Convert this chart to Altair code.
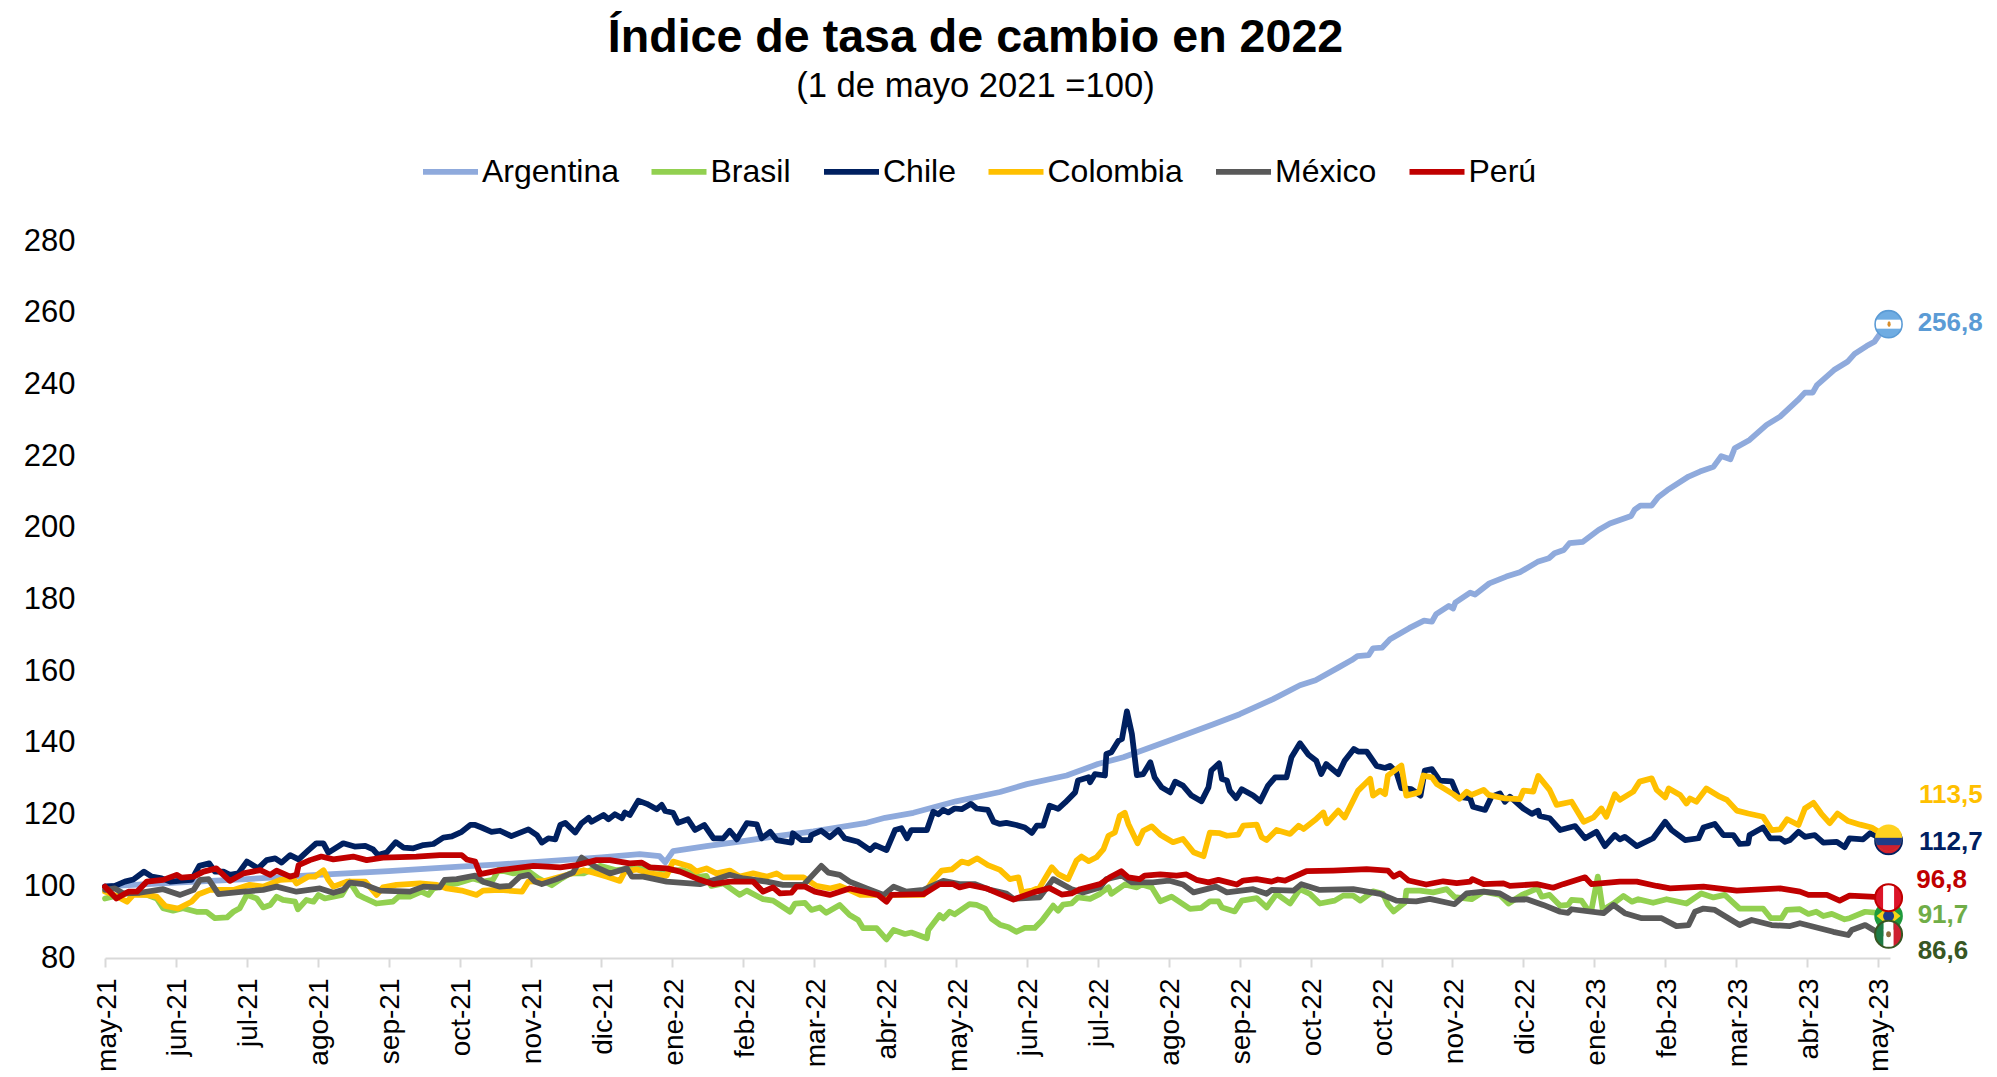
import urllib.parse
import altair as alt
import pandas as pd

TICK_LABELS = ["may-21","jun-21","jul-21","ago-21","sep-21","oct-21","nov-21","dic-21","ene-22","feb-22","mar-22","abr-22",
               "may-22","jun-22","jul-22","ago-22","sep-22","oct-22","oct-22","nov-22","dic-22","ene-23","feb-23","mar-23","abr-23","may-23"]
SERIES = ["Argentina","Brasil","Chile","Colombia","México","Perú"]
COLORS = ["#8FAADC","#92D050","#002060","#FFC000","#595959","#C00000"]

# (months since May 2021, index)
ARGENTINA = [(0,100),(1,101),(2,102),(3,103.2),(4,104.2),(5,105.5),(5.57,106.1),(6,106.7),(7,108.1),(7.54,109),(7.82,108.4),(7.9,106.7),
 (8.01,109.8),(8.48,111.2),(9,112.6),(9.47,114),(9.99,115.3),(10.74,117.7),(11,119.1),(11.4,120.5),(12,123.7),(12.62,126.3),(13,128.5),
 (13.56,130.9),(14,134.1),(14.36,136),(15,140.6),(15.63,145.2),(16,148),(16.47,152.2),(16.85,156.1),(17.07,157.5),(17.39,161),(17.58,163.1),
 (17.66,164.2),(17.82,164.5),(17.88,166.4),(18.01,166.6),(18.12,168.9),(18.39,172),(18.6,174.1),(18.71,173.8),(18.77,175.9),(18.95,178.2),
 (19.01,177.5),(19.04,179.1),(19.25,181.9),(19.32,181.4),(19.52,184.5),(19.76,186.4),(19.95,187.6),(20.2,190.5),(20.36,191.5),(20.44,192.9),
 (20.57,193.8),(20.65,195.7),(20.84,196.1),(21.06,199.4),(21.22,201.2),(21.52,203.3),(21.57,205.1),(21.65,206.2),(21.81,206.2),(21.9,208.5),
 (22.03,210.5),(22.33,214.3),(22.49,215.7),(22.68,217),(22.79,220),(22.92,219.1),(22.98,222.2),(23.19,224.5),(23.43,228.7),(23.62,231),
 (23.87,235.6),(23.97,237.7),(24.08,237.7),(24.14,239.8),(24.38,244),(24.57,246.3),(24.67,248.5),(24.84,250.7),(24.95,251.9),(25.05,254.7),(25.15,256.8)]

BRASIL = [(0,96.6),(.3,98),(.59,97.6),(.73,96.6),(.82,93.9),(.96,93.2),(1.1,93.9),(1.29,92.9),(1.43,92.9),(1.55,91.1),(1.72,91.3),(1.81,92.9),
 (1.9,93.9),(2,97.6),(2.14,96.6),(2.23,94.1),(2.33,94.8),(2.42,97.1),(2.51,96.2),(2.68,95.7),(2.72,93.6),(2.84,96.2),(2.94,95.7),(3.01,97.6),
 (3.1,96.6),(3.34,97.6),(3.45,101.3),(3.57,97.6),(3.67,96.6),(3.83,95.2),(4.06,95.7),(4.14,97.1),(4.3,97.1),(4.46,98.5),(4.56,97.6),(4.63,99.4),
 (4.82,100.4),(4.96,100.8),(5.19,102.2),(5.33,101.3),(5.47,101.8),(5.55,104.6),(5.76,103.6),(5.95,104.5),(6.11,102.2),(6.3,100.3),(6.44,102.2),
 (6.56,103.6),(6.75,103.6),(6.98,105.7),(7.21,104.5),(7.45,105),(7.68,105.3),(7.92,104.5),(8.15,104.5),(8.39,102.7),(8.48,102.9),(8.55,100.1),
 (8.72,100.8),(8.95,97.6),(9.05,98.8),(9.28,96.4),(9.42,96),(9.66,92.9),(9.73,95.2),(9.87,95.4),(9.96,93.4),(10.08,94.1),(10.17,92.6),(10.36,94.8),
 (10.5,92),(10.62,90.6),(10.69,88.3),(10.88,88.3),(11.02,85.2),(11.12,87.8),(11.28,86.7),(11.37,87.1),(11.59,85.5),(11.61,87.8),(11.77,92),
 (11.82,91),(11.91,92.9),(11.98,92.2),(12.19,95),(12.29,94.8),(12.41,93.8),(12.5,91),(12.62,89.3),(12.74,88.6),(12.85,87.3),(12.97,88.4),
 (13.11,88.4),(13.21,90.4),(13.37,94.6),(13.44,93.2),(13.51,94.9),(13.63,95.2),(13.72,96.9),(13.89,96.5),(14.03,97.9),(14.15,99.7),(14.19,97.9),
 (14.38,100.5),(14.55,99.7),(14.62,100.5),(14.76,99.7),(14.88,95.8),(15.04,97.1),(15.3,93.7),(15.46,94),(15.58,95.8),(15.7,95.8),(15.75,94.1),
 (15.93,93),(16.03,96),(16.24,96.7),(16.38,94.1),(16.52,97.9),(16.71,95.2),(16.85,99.2),(16.99,97.9),(17.13,95.2),(17.34,96),(17.46,97.4),
 (17.6,97.4),(17.7,96),(17.88,98.6),(18.02,97.9),(18.09,94.9),(18.17,93),(18.33,95.5),(18.35,98.8),(18.54,98.8),(18.73,98.3),(18.92,99.2),
 (19.03,97),(19.27,96.4),(19.44,98.5),(19.67,97.6),(19.79,95.2),(19.98,97.6),(20.2,99.4),(20.26,97.1),(20.37,97.6),(20.52,94.6),(20.63,94.8),
 (20.68,96.2),(20.82,96),(20.91,93.4),(20.96,93.4),(21.05,102.7),(21.12,93.4),(21.27,95.2),(21.41,97.3),(21.53,95.7),(21.62,96.4),(21.83,95.4),
 (22.02,96.4),(22.3,95.2),(22.51,98),(22.68,96.9),(22.84,97.6),(23.05,93.8),(23.38,93.8),(23.49,91.1),(23.64,91.1),(23.71,93.4),(23.9,93.6),
 (24.02,92.3),(24.13,92.9),(24.23,91.7),(24.35,92.3),(24.53,90.8),(24.6,91.1),(24.82,92.9),(25,92.6),(25.15,91.7)]

CHILE = [(0,99.9),(.14,100.1),(.28,101.3),(.4,101.9),(.55,104.1),(.66,102.7),(.8,102.2),(.92,101.3),(1.08,101.6),(1.22,101.8),(1.33,105.7),
 (1.47,106.4),(1.55,104.1),(1.67,104.1),(1.76,103.2),(1.88,103.6),(2,106.9),(2.16,105),(2.28,107.3),(2.4,107.8),(2.49,106.6),(2.61,108.7),
 (2.73,107.5),(2.87,110.1),(2.98,112),(3.08,112),(3.15,109.4),(3.36,112),(3.52,111.1),(3.67,111.3),(3.78,110.3),(3.85,108.7),(3.97,109.4),
 (4.1,112.3),(4.21,110.8),(4.35,110.6),(4.49,111.5),(4.63,111.8),(4.77,113.6),(4.89,113.9),(5.03,115.2),(5.15,117.1),(5.22,117.1),(5.31,116.4),
 (5.45,115.2),(5.57,115.5),(5.73,114),(5.97,115.9),(6.09,114.3),(6.16,112.2),(6.25,113.4),(6.35,113.1),(6.42,117.1),(6.49,117.7),(6.63,115),
 (6.72,117.6),(6.82,119.1),(6.86,118),(7.03,119.9),(7.1,118.7),(7.19,120.1),(7.29,119),(7.33,120.6),(7.4,119.9),(7.52,123.9),(7.64,123),
 (7.78,121.5),(7.85,122.7),(7.9,121),(8.01,120.5),(8.08,117.7),(8.22,118.7),(8.32,115.7),(8.45,117.1),(8.58,113.4),(8.72,113.4),(8.81,115.5),
 (8.91,113.1),(9.05,117.6),(9.19,117.3),(9.26,113.4),(9.38,115.2),(9.47,112.9),(9.68,112.2),(9.7,114.8),(9.82,112.9),(9.94,112.9),(9.96,114.3),
 (10.1,115.5),(10.22,113.7),(10.34,115.7),(10.43,113.4),(10.62,112.4),(10.79,110.1),(10.86,111.5),(11.02,110.1),(11.14,115.7),(11.23,116.2),
 (11.31,113.4),(11.37,115.7),(11.59,115.7),(11.68,120.8),(11.75,120.1),(11.82,121.3),(11.89,120.6),(11.98,121.7),(12.08,121.5),(12.21,123),
 (12.29,121.7),(12.45,121.3),(12.53,118),(12.62,117.4),(12.71,117.7),(12.85,117.1),(12.97,116.4),(13.07,114.9),(13.14,116.9),(13.23,116.9),
 (13.32,122.5),(13.44,121.6),(13.54,123.4),(13.68,126.2),(13.72,129.5),(13.87,130.4),(13.89,129),(13.96,131.3),(14.1,130.9),(14.12,136.9),
 (14.19,137.4),(14.29,140.6),(14.34,141.1),(14.41,148.8),(14.48,142.5),(14.55,131),(14.64,131.3),(14.74,134.6),(14.8,130.4),(14.9,127.6),
 (15.02,126.2),(15.09,129.2),(15.2,128.1),(15.32,125.3),(15.46,123.7),(15.56,127.6),(15.6,132.3),(15.71,134.3),(15.75,129.9),(15.82,129.5),
 (15.86,126.7),(15.95,124.6),(16.03,127.1),(16.19,125.3),(16.29,123.7),(16.4,128.1),(16.5,130.4),(16.66,130.4),(16.73,136),(16.85,139.9),
 (16.97,136.7),(17.08,135),(17.15,131.3),(17.22,134.1),(17.39,131.3),(17.48,135),(17.61,138.3),(17.67,137.6),(17.79,137.6),(17.93,133.6),
 (18.05,133),(18.12,133.6),(18.21,131.8),(18.28,127.4),(18.42,127.1),(18.55,125.3),(18.61,132.3),(18.71,132.7),(18.82,129.5),(18.99,129.3),
 (19.08,125),(19.25,124.5),(19.29,122.2),(19.46,121.3),(19.55,125),(19.67,125.9),(19.74,123.6),(19.81,125),(20,121.7),(20.12,120.2),(20.21,121.1),
 (20.23,119.6),(20.37,119),(20.52,115.7),(20.73,116.8),(20.87,113.4),(21.03,115.2),(21.15,111.2),(21.29,114.3),(21.36,113.1),(21.43,113.8),
 (21.6,111.2),(21.83,113.4),(22,118),(22.09,115.7),(22.28,112.9),(22.47,113.4),(22.54,116.4),(22.7,117.4),(22.82,114.3),(22.96,114.3),(23.05,111.8),
 (23.17,112),(23.19,114.3),(23.38,116.4),(23.48,113.4),(23.62,113.4),(23.69,112.4),(23.76,112.9),(23.88,115.2),(23.97,113.8),(24.11,114.3),
 (24.23,112.2),(24.42,112.4),(24.53,110.9),(24.6,113.4),(24.79,113.1),(24.89,114.8),(25,113.8),(25.15,112.7)]

COLOMBIA = [(0,98.5),(.15,97.4),(.31,95.7),(.4,97.6),(.59,97.6),(.73,97.1),(.85,94.5),(1.03,93.8),(1.22,95.7),(1.32,97.8),(1.48,99),(1.81,99),
 (2.04,100.4),(2.23,99.9),(2.47,101.8),(2.66,102),(2.7,100.8),(2.87,102.7),(2.96,102.7),(3.08,104.5),(3.15,101.8),(3.22,99.9),(3.41,101.3),
 (3.67,101.3),(3.83,97.6),(3.92,99.7),(4.11,100.4),(4.44,100.8),(4.68,100.4),(4.82,99.4),(5.03,98.8),(5.24,97.6),(5.33,98.8),(5.57,99),(5.88,98.5),
 (5.97,101.3),(6.2,101.5),(6.75,104.5),(6.89,103.8),(7.07,102.7),(7.26,101.5),(7.33,104.1),(7.5,104.7),(7.68,103.6),(7.92,103),(8.01,106.9),
 (8.25,105.5),(8.34,104.1),(8.48,105),(8.62,103.6),(8.81,104.4),(8.95,102.7),(9.14,103.6),(9.33,102.7),(9.47,103.6),(9.56,102.5),(9.85,102.5),
 (10.03,100.1),(10.22,99.4),(10.36,100.1),(10.55,98.5),(10.65,97.6),(11.21,97.6),(11.54,97.6),(11.68,101.8),(11.8,104.4),(11.94,104.7),(12.08,106.9),
 (12.17,106.4),(12.3,107.8),(12.45,105.9),(12.62,104.6),(12.76,102),(12.88,102.5),(12.93,98.3),(13.07,98.8),(13.18,99.7),(13.35,105.3),(13.44,103.4),
 (13.58,102),(13.7,107.2),(13.77,108.3),(13.87,107),(13.98,108.1),(14.08,110.4),(14.15,114.1),(14.24,115),(14.31,119.7),(14.38,120.5),(14.43,117.4),
 (14.56,112),(14.64,115.5),(14.76,116.7),(14.88,114.4),(15.06,112.3),(15.2,113.2),(15.35,109.5),(15.49,108.4),(15.58,115),(15.72,114.8),(15.82,114.1),
 (15.98,114.4),(16.05,116.9),(16.24,117.2),(16.31,113.7),(16.38,112.9),(16.52,115.7),(16.71,114.6),(16.83,116.9),(16.9,116),(17.08,118.8),(17.18,120.6),
 (17.23,117.6),(17.39,121.1),(17.48,119.2),(17.67,126.7),(17.84,130),(17.88,125.3),(17.98,126.7),(18.05,125.7),(18.09,130.9),(18.28,133.7),(18.35,125.3),
 (18.53,126.2),(18.59,130.9),(18.71,130.4),(18.78,128.5),(19.01,125.7),(19.1,124.4),(19.2,126.4),(19.27,125.5),(19.44,126.9),(19.51,125.5),(19.74,124.5),
 (19.95,124.3),(20,126.7),(20.14,126.4),(20.21,130.8),(20.37,126.9),(20.47,122.7),(20.68,123.6),(20.85,118),(20.99,119.2),(21.1,121.7),(21.17,119.4),
 (21.29,125.7),(21.36,124.1),(21.55,126.4),(21.64,129.2),(21.81,130.1),(21.88,126.9),(22,124.8),(22.05,127.3),(22.21,125.5),(22.3,123.1),(22.35,124.5),
 (22.44,123.6),(22.58,127.3),(22.77,125),(22.87,124.1),(23.01,121.1),(23.17,120.3),(23.38,119.4),(23.5,115.7),(23.62,115.9),(23.72,118.7),(23.88,117.1),
 (23.97,121.7),(24.09,123.3),(24.2,120.3),(24.32,117.6),(24.43,120.3),(24.58,118.2),(24.75,117.2),(24.91,116.4),(25.15,113.5)]

MEXICO = [(0,99),(.14,99.4),(.26,98),(.49,98.2),(.82,99.2),(1.06,97.6),(1.25,99),(1.34,101.8),(1.46,102),(1.6,97.8),(1.95,98.5),(2.23,99),(2.42,99.9),
 (2.7,98.5),(3.03,99.4),(3.22,98.2),(3.36,99),(3.45,101),(3.64,100.6),(3.88,98.8),(4.3,98.5),(4.49,99.9),(4.72,99.7),(4.79,101.8),(4.96,102),(5.22,103),
 (5.33,101.3),(5.57,99.9),(5.71,100.1),(5.85,102.7),(5.97,103.2),(6.06,101.3),(6.16,100.6),(6.37,102),(6.6,103.8),(6.72,108),(6.93,105.3),(7.12,103.6),
 (7.36,105),(7.43,102.7),(7.59,102.7),(7.92,101.3),(8.39,100.6),(8.62,102),(8.81,103.2),(9,102.2),(9.33,101.3),(9.56,100.4),(9.85,100.4),(10.1,105.7),
 (10.2,103.8),(10.36,103.2),(10.5,101.3),(10.74,99.4),(10.98,97.6),(11.12,99.9),(11.3,98.5),(11.54,99),(11.82,101.5),(12.05,100.6),(12.27,100.6),
 (12.48,99),(12.62,98.4),(12.71,98),(12.81,96.5),(13.18,96.9),(13.37,102),(13.63,99.2),(13.79,98.3),(14.03,99.7),(14.12,102),(14.34,103),(14.48,101.1),
 (14.78,101.1),(15,101.6),(15.2,100.5),(15.35,98.3),(15.67,99.9),(15.82,98.3),(16.19,99.2),(16.38,97.9),(16.45,99),(16.76,98.8),(16.87,100.6),(17.13,99),
 (17.6,99.2),(17.98,97.9),(18.21,96),(18.49,95.8),(18.68,96.5),(19.03,95),(19.2,98),(19.44,98.5),(19.67,98),(19.83,96.2),(20.05,96.4),(20.28,94.8),
 (20.52,92.9),(20.63,92.6),(20.68,93.6),(21.13,92.5),(21.27,94.8),(21.43,92.5),(21.67,91.1),(21.95,91.1),(22.16,88.9),(22.33,89.2),(22.42,92.9),
 (22.54,93.8),(22.7,93.4),(23.05,89.2),(23.22,90.6),(23.5,89.2),(23.76,88.9),(23.9,89.7),(24.37,87.3),(24.58,86.4),(24.63,87.8),(24.82,89.2),(24.98,87.3),(25.15,86.6)]

PERU = [(0,99.9),(.16,96.6),(.33,98.5),(.45,98.5),(.59,101.3),(.82,101.8),(1.01,103.2),(1.08,102.4),(1.25,102.7),(1.39,104.1),(1.57,105),(1.76,101.5),
 (1.95,103.6),(2.19,104.5),(2.33,103.2),(2.42,104.4),(2.61,102.7),(2.7,103.2),(2.73,105.9),(2.89,107.3),(3.05,108.3),(3.22,107.5),(3.5,108.3),(3.69,107.3),
 (3.92,108),(4.39,108.3),(4.72,108.7),(5.03,108.7),(5.1,107.5),(5.22,106.9),(5.29,103.4),(5.57,104.5),(6.04,105.7),(6.42,105.3),(6.65,105.9),(6.93,107.3),
 (7.12,107.3),(7.4,106.4),(7.57,106.6),(7.68,105.3),(7.92,105),(8.11,104.1),(8.39,101.8),(8.58,100.6),(8.81,101.3),(9.14,101.3),(9.28,98.5),(9.42,99.7),
 (9.52,98),(9.68,98.2),(9.75,99.9),(9.87,99.9),(10.01,98.5),(10.22,97.6),(10.5,99.4),(10.9,97.6),(11.02,95.7),(11.09,97.6),(11.54,97.8),(11.77,100.6),
 (11.96,100.6),(12.05,99.7),(12.19,100.4),(12.43,99.4),(12.62,97.8),(12.81,96.3),(13.09,98.3),(13.32,99.5),(13.49,97.7),(13.63,98),(13.75,99.2),(14.03,100.6),
 (14.17,102.5),(14.33,104.2),(14.43,102.5),(14.59,102),(14.66,103),(14.88,103.3),(15.11,103),(15.25,103.3),(15.39,101.8),(15.56,101.1),(15.7,101.8),
 (15.96,100.5),(16.05,101.6),(16.24,102),(16.45,101.3),(16.54,101.9),(16.64,101.6),(16.94,104.2),(17.32,104.4),(17.79,104.8),(18.09,104.4),(18.17,102.7),
 (18.26,103.6),(18.38,101.6),(18.63,100.5),(18.87,101.4),(19.06,100.9),(19.25,101.3),(19.28,102),(19.44,100.6),(19.72,100.8),(19.81,100.1),(20.19,100.6),
 (20.42,99.6),(20.56,100.6),(20.87,102.5),(20.96,100.6),(21.36,101.3),(21.6,101.3),(21.88,100.1),(22.07,99.4),(22.54,99.9),(23.01,98.8),(23.62,99.4),
 (23.9,98.5),(24.02,97.6),(24.28,97.6),(24.46,96),(24.6,97.4),(24.89,97.1),(25.15,96.8)]

ALL = [ARGENTINA, BRASIL, CHILE, COLOMBIA, MEXICO, PERU]

# end labels
LABEL_TEXT = ["256,8","113,5","112,7","96,8","91,7","86,6"]
LABEL_MONTH = [25.56,25.58,25.58,25.54,25.56,25.56]
LABEL_VALUE = [257,125.5,112.4,101.8,92,82]
LABEL_COLOR = ["#5B9BD5","#FFC000","#002060","#C00000","#70AD47","#375623"]

# flags drawn at the series' last value
def flag(body, ring, sw=1.6):
    svg = ("<svg xmlns='http://www.w3.org/2000/svg' width='30' height='30' viewBox='0 0 30 30'>"
           "<defs><clipPath id='c'><circle cx='15' cy='15' r='13.5'/></clipPath></defs>"
           f"<g clip-path='url(#c)'>{body}</g>"
           f"<circle cx='15' cy='15' r='13.5' fill='none' stroke='{ring}' stroke-width='{sw}'/></svg>")
    return "data:image/svg+xml," + urllib.parse.quote(svg)

def hbands(*bands):
    return "".join(f"<rect x='0' y='{y}' width='30' height='{h}' fill='{c}'/>" for y, h, c in bands)

def vbands(*bands):
    return "".join(f"<rect x='{x}' y='0' width='{w}' height='30' fill='{c}'/>" for x, w, c in bands)

FLAG_COUNTRY = ["Argentina","Chile","Colombia","Brasil","Perú","México"]
FLAG_MONTH = [25.15]*6
FLAG_VALUE = [256.8,112.7,113.5,91.7,96.8,86.6]
FLAG_URL = [
    flag(hbands((0,30,"#6FACE2"),(10.5,9,"#FFFFFF")) + "<ellipse cx='15.5' cy='15' rx='1.6' ry='2.8' fill='#D98E2B'/>", "#5B9BD5"),
    flag(hbands((0,30,"#1F3C88"),(15,14,"#D0202E")), "#002060", 1.8),
    flag(hbands((0,15,"#FFD21F"),(15,7.5,"#1F3C88"),(22.5,7.5,"#D0202E")), "#FFD21F", 0.1),
    flag("<rect width='30' height='30' fill='#1E9A3D'/><polygon points='15,5 27,15 15,25 3,15' fill='#F7D417'/><circle cx='15' cy='15' r='5.5' fill='#1F3C88'/>", "#1E9A3D"),
    flag(vbands((0,30,"#DC1428"),(9.5,11,"#FFFFFF")), "#C00000", 2.0),
    flag(vbands((0,10,"#1E7B45"),(10,10,"#FFFFFF"),(20,10,"#CE1F2F")) + "<ellipse cx='15' cy='15' rx='2.4' ry='3' fill='#8C6A3C'/>", "#375623", 2.0),
]

FONT = "Liberation Sans"

lines = pd.DataFrame(
    [{"mes": t, "indice": v, "pais": s} for s, pts in zip(SERIES, ALL) for t, v in pts]
)
flags = pd.DataFrame({"mes": FLAG_MONTH, "indice": FLAG_VALUE, "url": FLAG_URL, "orden": range(6), "pais": FLAG_COUNTRY})
labels = pd.DataFrame({"mes": LABEL_MONTH, "indice": LABEL_VALUE, "txt": LABEL_TEXT, "col": LABEL_COLOR})

x_scale = alt.Scale(domain=[0, 25.17], nice=False, zero=False)
y_scale = alt.Scale(domain=[80, 280], nice=False, zero=False)
label_expr = "[" + ",".join(f"'{s}'" for s in TICK_LABELS) + "][datum.value]"

x_axis = alt.Axis(values=list(range(26)), labelExpr=label_expr, title=None, grid=False, labelAngle=-90, labelAlign="right",
                  labelBaseline="middle", labelFontSize=28, labelFont=FONT, labelColor="#000000", labelPadding=11, labelOffset=2,
                  labelOverlap=False, labelFlush=False, tickColor="#D9D9D9", tickSize=9, tickWidth=2,
                  domainColor="#D9D9D9", domainWidth=2)
y_axis = alt.Axis(values=list(range(80, 281, 20)), title=None, grid=False, domain=False, ticks=False, labelFontSize=31,
                  labelFont=FONT, labelColor="#000000", labelPadding=30)

line_layer = alt.Chart(lines).mark_line(strokeWidth=5.75, strokeCap="round", strokeJoin="round").encode(
    x=alt.X("mes:Q", scale=x_scale, axis=x_axis),
    y=alt.Y("indice:Q", scale=y_scale, axis=y_axis),
    color=alt.Color("pais:N", scale=alt.Scale(domain=SERIES, range=COLORS), sort=SERIES,
                    legend=alt.Legend(title=None, orient="none", legendX=315, legendY=-100, direction="horizontal", columns=6,
                                      symbolType="stroke", symbolSize=3025, symbolStrokeWidth=5.75, labelFontSize=32,
                                      labelFont=FONT, labelColor="#000000", labelOffset=1, columnPadding=20.5, labelLimit=300)),
)
flag_layer = alt.Chart(flags).mark_image(width=30, height=30, align="center", baseline="middle").encode(
    x=alt.X("mes:Q", scale=x_scale), y=alt.Y("indice:Q", scale=y_scale), url="url:N",
    order="orden:Q",
)
text_layer = alt.Chart(labels).mark_text(align="left", baseline="middle", fontSize=26, fontWeight="bold", font=FONT).encode(
    x=alt.X("mes:Q", scale=x_scale), y=alt.Y("indice:Q", scale=y_scale), text="txt:N",
    color=alt.Color("col:N", scale=None),
)

chart = (
    alt.layer(line_layer, flag_layer, text_layer)
    .properties(
        width=1785, height=717,
        background="#FFFFFF",
        padding={"left": 97, "top": 233, "right": 97, "bottom": 116},
        autosize=alt.AutoSizeParams(type="none"),
        title=alt.TitleParams(text="Índice de tasa de cambio en 2022", subtitle="(1 de mayo 2021 =100)", anchor="middle",
                              font=FONT, fontSize=46.6, fontWeight="bold", color="#000000", subtitleFont=FONT,
                              subtitleFontSize=34.6, subtitleColor="#000000", subtitlePadding=9, offset=37, dx=-22),
    )
    .configure_view(strokeWidth=0, stroke=None)
)

chart.save("out.html", embed_options={"renderer": "svg", "actions": False})
